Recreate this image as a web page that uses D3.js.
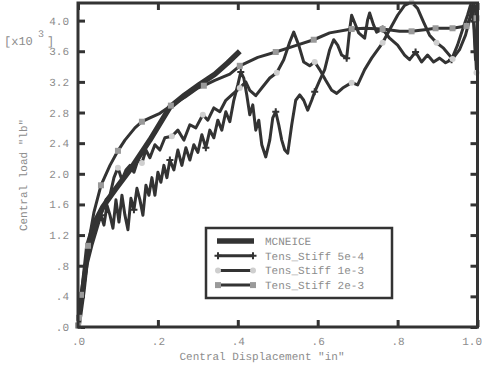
<!DOCTYPE html>
<html><head><meta charset="utf-8">
<script src="https://cdn.jsdelivr.net/npm/d3@7"></script>
<style>body{margin:0;background:#fff;}svg{display:block;}text{text-rendering:geometricPrecision;}</style>
</head><body>
<svg id="c" width="482" height="365" style="opacity:0.999"></svg>
<script>
// ---- data (load in thousands of lb, displacement in inches) ----
const xTicks = [0, 0.2, 0.4, 0.6, 0.8, 1.0];
const xTickLabels = [".0", ".2", ".4", ".6", ".8", "1.0"];
const yTicks = [0, 0.4, 0.8, 1.2, 1.6, 2.0, 2.4, 2.8, 3.2, 3.6, 4.0];
const yTickLabels = [".0", ".4", ".8", "1.2", "1.6", "2.0", "2.4", "2.8", "3.2", "3.6", "4.0"];
const seriesNames = ["MCNEICE", "Tens_Stiff 5e-4", "Tens_Stiff 1e-3", "Tens_Stiff 2e-3"];

const mcneice = [[0,0],[0.0125,0.48],[0.025,1.07],[0.0425,1.37],[0.0625,1.57],[0.0925,1.79],[0.13,2.05],[0.18,2.44],[0.23,2.87],[0.2675,3.03],[0.305,3.17],[0.3425,3.30],[0.375,3.45],[0.405,3.60]];

const stiff5e4 = [[0,0],[0.01,0.35],[0.0225,0.81],[0.035,1.07],[0.0425,1.20],[0.05,1.33],[0.0575,1.46],[0.065,1.33],[0.0725,1.59],[0.08,1.46],[0.0875,1.29],[0.095,1.66],[0.1025,1.37],[0.11,1.72],[0.1175,1.46],[0.125,1.27],[0.1325,1.68],[0.14,1.53],[0.1475,1.81],[0.155,1.66],[0.1625,1.46],[0.17,1.85],[0.1775,1.72],[0.185,1.95],[0.1925,1.72],[0.20,2.02],[0.2075,1.89],[0.215,2.11],[0.2225,1.95],[0.23,2.18],[0.24,2.05],[0.25,2.31],[0.26,2.11],[0.27,2.34],[0.28,2.18],[0.29,2.38],[0.30,2.28],[0.31,2.51],[0.32,2.34],[0.33,2.57],[0.34,2.47],[0.35,2.70],[0.36,2.57],[0.37,2.81],[0.38,2.68],[0.39,2.96],[0.40,3.16],[0.4075,3.33],[0.415,3.25],[0.4225,3.03],[0.43,2.77],[0.4375,2.90],[0.445,2.57],[0.4525,2.70],[0.46,2.38],[0.47,2.22],[0.48,2.44],[0.4875,2.73],[0.495,2.81],[0.5025,2.64],[0.51,2.44],[0.5175,2.31],[0.525,2.27],[0.535,2.64],[0.545,2.96],[0.555,3.03],[0.565,2.96],[0.575,2.83],[0.585,2.96],[0.5925,3.07],[0.605,3.22],[0.6175,3.36],[0.63,3.62],[0.64,3.75],[0.65,3.68],[0.66,3.55],[0.6725,3.51],[0.68,3.88],[0.685,4.07],[0.695,3.94],[0.7025,3.84],[0.7175,3.77],[0.725,4.01],[0.73,4.10],[0.74,3.94],[0.7475,3.85],[0.7625,3.89],[0.78,3.77],[0.80,3.68],[0.8175,3.55],[0.83,3.49],[0.845,3.59],[0.86,3.46],[0.875,3.55],[0.89,3.46],[0.905,3.51],[0.92,3.45],[0.935,3.49],[0.95,3.68],[0.9625,3.88],[0.975,4.07],[0.9825,4.20],[0.99,4.01],[0.995,3.49],[1.0,3.75]];
const stiff5e4Marks = [[0.0575,1.46],[0.14,1.53],[0.23,2.18],[0.32,2.34],[0.4075,3.33],[0.495,2.81],[0.5925,3.07],[0.6725,3.51],[0.7625,3.89],[0.845,3.59],[0.935,3.49]];

const stiff1e3 = [[0,0],[0.01,0.35],[0.0225,0.85],[0.035,1.16],[0.0475,1.37],[0.06,1.50],[0.07,1.66],[0.08,1.72],[0.09,1.95],[0.10,2.08],[0.11,1.92],[0.12,2.05],[0.13,2.11],[0.14,2.02],[0.15,2.18],[0.16,2.14],[0.17,2.31],[0.18,2.21],[0.1925,2.38],[0.205,2.31],[0.2175,2.47],[0.235,2.49],[0.25,2.57],[0.265,2.44],[0.28,2.64],[0.295,2.60],[0.3125,2.77],[0.325,2.70],[0.34,2.86],[0.355,2.81],[0.37,2.96],[0.385,3.03],[0.405,3.12],[0.42,3.20],[0.43,3.09],[0.445,3.02],[0.46,3.12],[0.48,3.25],[0.4975,3.32],[0.515,3.49],[0.53,3.72],[0.54,3.85],[0.5525,3.68],[0.565,3.46],[0.58,3.41],[0.5925,3.46],[0.605,3.36],[0.62,3.22],[0.635,3.09],[0.6475,3.05],[0.6625,3.12],[0.685,3.19],[0.70,3.16],[0.7175,3.36],[0.735,3.51],[0.7625,3.71],[0.78,3.88],[0.80,4.07],[0.8175,4.20],[0.835,4.24],[0.85,4.16],[0.865,3.98],[0.88,3.81],[0.8975,3.71],[0.915,3.64],[0.9375,3.50],[0.955,3.62],[0.97,3.81],[0.98,4.01],[0.9875,4.20],[0.9925,3.88],[0.9975,3.32],[1.0,3.49]];
const stiff1e3Marks = [[0.10,2.08],[0.16,2.14],[0.235,2.49],[0.3125,2.77],[0.405,3.12],[0.4975,3.32],[0.5925,3.46],[0.685,3.19],[0.7625,3.71],[0.835,4.24],[0.8975,3.71],[0.9375,3.50],[0.9975,3.32]];

const stiff2e3 = [[0,0],[0.0025,0.12],[0.0075,0.42],[0.025,1.06],[0.04,1.50],[0.0575,1.85],[0.08,2.11],[0.10,2.30],[0.1175,2.44],[0.1425,2.60],[0.16,2.68],[0.18,2.73],[0.205,2.79],[0.2325,2.89],[0.2675,3.00],[0.30,3.12],[0.315,3.15],[0.3425,3.22],[0.38,3.30],[0.405,3.41],[0.45,3.52],[0.495,3.59],[0.5425,3.67],[0.59,3.75],[0.63,3.84],[0.685,3.89],[0.7175,3.90],[0.7625,3.89],[0.805,3.86],[0.835,3.86],[0.8675,3.88],[0.895,3.90],[0.9375,3.90],[0.9725,3.93],[0.985,4.07],[0.9925,4.20],[0.9975,4.03],[1.0,3.98]];
const stiff2e3Marks = [[0,0.02],[0.0025,0.12],[0.0075,0.42],[0.025,1.06],[0.0575,1.85],[0.10,2.30],[0.16,2.68],[0.2325,2.89],[0.315,3.15],[0.405,3.41],[0.495,3.59],[0.59,3.75],[0.685,3.89],[0.7625,3.89],[0.835,3.86],[0.895,3.90],[0.9375,3.90],[0.9725,3.93],[0.9975,4.03]];

// ---- drawing ----
const svg = d3.select("#c");
const L = 78, R = 477.5, T = 3, B = 327;
const x = d3.scaleLinear().domain([0, 1]).range([L, R]);
const y = d3.scaleLinear().domain([0, 4.0]).range([B, 20.6]);
const ink = "#333", textCol = "#8c8c8c", font = "'Liberation Mono', 'DejaVu Sans Mono', monospace";

svg.append("defs").append("clipPath").attr("id", "clip")
  .append("rect").attr("x", L).attr("y", T).attr("width", R - L).attr("height", B - T);

function styleAxis(g) {
  g.select(".domain").remove();
  g.selectAll(".tick line").attr("stroke", ink).attr("stroke-width", 3);
  g.selectAll(".tick text").attr("fill", textCol).style("font-family", font).style("font-size", "11px");
}
svg.append("g").attr("transform", `translate(${L},0)`)
  .call(d3.axisLeft(y).tickValues(yTicks).tickFormat((d, i) => yTickLabels[i]).tickSize(-7).tickSizeOuter(0).tickPadding(9))
  .call(styleAxis);
svg.append("g").attr("transform", `translate(${R},0)`)
  .call(d3.axisRight(y).tickValues(yTicks).tickFormat("").tickSize(-7).tickSizeOuter(0))
  .call(styleAxis);
const xAxisG = svg.append("g").attr("transform", `translate(0,${B})`)
  .call(d3.axisBottom(x).tickValues(xTicks).tickFormat((d, i) => xTickLabels[i]).tickSize(-7).tickSizeOuter(0).tickPadding(10))
  .call(styleAxis);
// last label sits inside the window, as in the reference
xAxisG.selectAll(".tick text").filter((d, i) => i === xTicks.length - 1)
  .attr("text-anchor", "end").attr("dx", 4);
svg.append("g").attr("transform", `translate(0,${T})`)
  .call(d3.axisTop(x).tickValues(xTicks).tickFormat("").tickSize(-7).tickSizeOuter(0))
  .call(styleAxis);

// curves
const line = d3.line().x(d => x(d[0])).y(d => y(d[1]));
const plot = svg.append("g").attr("clip-path", "url(#clip)");
plot.append("path").datum(mcneice).attr("d", line).attr("fill", "none").attr("stroke", ink).attr("stroke-width", 5.5).attr("stroke-linejoin", "round");

function drawMark(g, px, py, kind) {
  if (kind === "plus") g.append("path").attr("d", `M${px - 3.5},${py}H${px + 3.5}M${px},${py - 3.5}V${py + 3.5}`).attr("stroke", ink).attr("stroke-width", 2);
  else if (kind === "circle") g.append("circle").attr("cx", px).attr("cy", py).attr("r", 3).attr("fill", "#cfcfcf");
  else if (kind === "square") g.append("rect").attr("x", px - 3).attr("y", py - 3).attr("width", 6).attr("height", 6).attr("fill", "#9a9a9a");
}
function drawSeries(data, marks, kind) {
  plot.append("path").datum(data).attr("d", line).attr("fill", "none").attr("stroke", ink).attr("stroke-width", 3).attr("stroke-linejoin", "round");
  const mg = svg.append("g");
  marks.forEach(m => drawMark(mg, x(m[0]), y(m[1]), kind));
}
drawSeries(stiff5e4, stiff5e4Marks, "plus");
drawSeries(stiff1e3, stiff1e3Marks, "circle");
drawSeries(stiff2e3, stiff2e3Marks, "square");

// frame
svg.append("rect").attr("x", L).attr("y", T).attr("width", R - L).attr("height", B - T)
  .attr("fill", "none").attr("stroke", ink).attr("stroke-width", 3);

// axis titles
function label(px, py, txt, size, anchor) {
  return svg.append("text").attr("x", px).attr("y", py).attr("text-anchor", anchor || "start")
    .attr("fill", textCol).style("font-family", font).style("font-size", size + "px").text(txt);
}
label(262, 360, 'Central Displacement "in"', 11, "middle");
svg.append("text").attr("transform", "translate(27,175) rotate(-90)").attr("text-anchor", "middle")
  .attr("fill", textCol).style("font-family", font).style("font-size", "11px").text('Central load "lb"');
label(4, 45, "[x10", 12);
label(38, 37, "3", 10);
label(47, 45, "]", 12);

// legend
const lg = svg.append("g");
lg.append("rect").attr("x", 206).attr("y", 228).attr("width", 186).attr("height", 70)
  .attr("fill", "#fff").attr("stroke", ink).attr("stroke-width", 2.5);
const kinds = ["thick", "plus", "circle", "square"];
seriesNames.forEach((name, i) => {
  const yy = 241 + i * 14.7;
  lg.append("line").attr("x1", 217).attr("x2", 254).attr("y1", yy).attr("y2", yy)
    .attr("stroke", ink).attr("stroke-width", i === 0 ? 5.5 : 3);
  if (i > 0) { drawMark(lg, 218, yy, kinds[i]); drawMark(lg, 253, yy, kinds[i]); }
  lg.append("text").attr("x", 265).attr("y", yy + 4).attr("fill", textCol)
    .style("font-family", font).style("font-size", "11px").text(name);
});
</script>
</body></html>
